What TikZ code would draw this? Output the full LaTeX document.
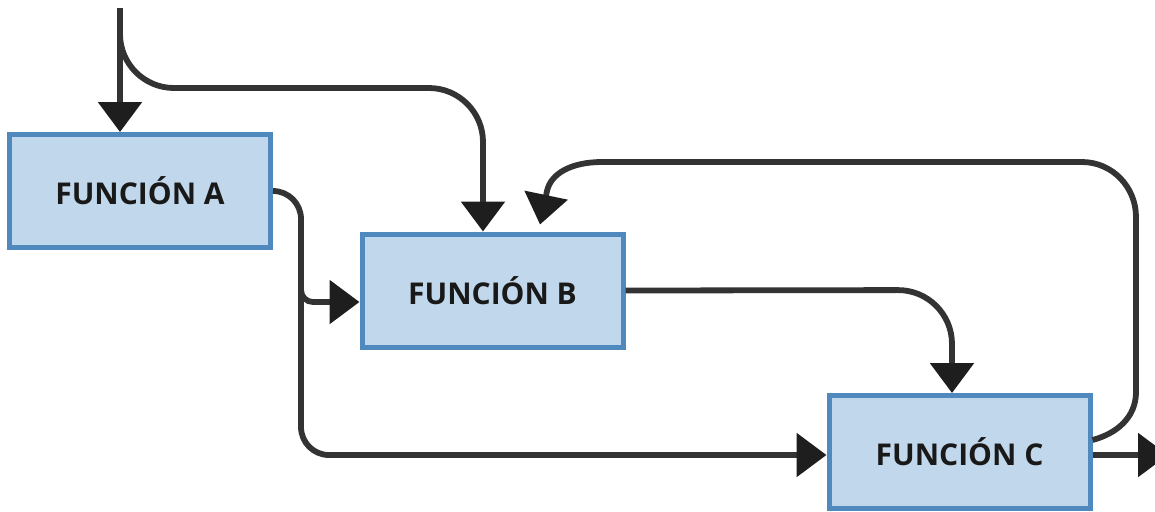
\documentclass[tikz,border=0pt]{standalone}
\usepackage{fontspec}
\setmainfont{Open Sans}
\usetikzlibrary{arrows.meta,positioning,calc}
\definecolor{boxfill}{HTML}{C1D7EB}
\definecolor{boxline}{HTML}{4F89BE}
\definecolor{wire}{HTML}{333333}
\definecolor{tipc}{HTML}{1E1E1E}

\begin{document}
\begin{tikzpicture}[x = .5pt, y = -.5pt,
  func/.style = {draw = boxline, fill = boxfill, line width = 2.5pt, minimum width = 130.5pt, minimum height = 56.5pt, font = \bfseries\fontsize{15}{18}\selectfont, text = black!90},
  flow/.style = {draw = wire, line width = 2.9pt, -{Triangle[length = 15pt, width = 21.5pt, color = tipc]}}]
\useasboundingbox (0, 0) rectangle (1155, 511);

\node[func] (a) at (140, 191) {FUNCIÓN A};
\node[func] (b) at (492.5, 290.5) {FUNCIÓN B};
\node[func] (c) at (959.5, 452) {FUNCIÓN C};

\coordinate (in) at (120, 8);
\coordinate (tap) at (120, 30);
\coordinate (split) at (301, 191);
\coordinate (out) at (1168, 455);
\coordinate (back) at ([xshift = 23.75pt, yshift = 3.5pt]b.north);
\coordinate (cin) at ([yshift = -1.5pt]c.west);

\draw[flow] (in) -- (in |- a.north);
\draw[flow, rounded corners = 27pt] (tap) -- (120, 88) -- (483, 88) -- ([xshift = -4.75pt]b.north);

\draw[flow, rounded corners = 14pt] (a.east) -- (split) -- (split |- cin) -- (cin);
\draw[flow, rounded corners = 6pt] (301, 280) -- (301, 302) -- ([yshift = -5.75pt]b.west);

\draw[flow, rounded corners = 27pt] (b.east) -- (952, 290) -- ([xshift = -3.75pt]c.north);

% feedback from C back into B
\draw[flow] ([yshift = 6pt]c.east) to[out = 15, in = -90] (1136, 392) -- (1136, 217) to[out = 90, in = 0] (1082, 162) -- (602, 162) .. controls (572, 162) and (551, 173) .. (547, 191) -- (back);

\draw[flow] ([yshift = -1.5pt]c.east) -- (out);

\end{tikzpicture}
\end{document}
